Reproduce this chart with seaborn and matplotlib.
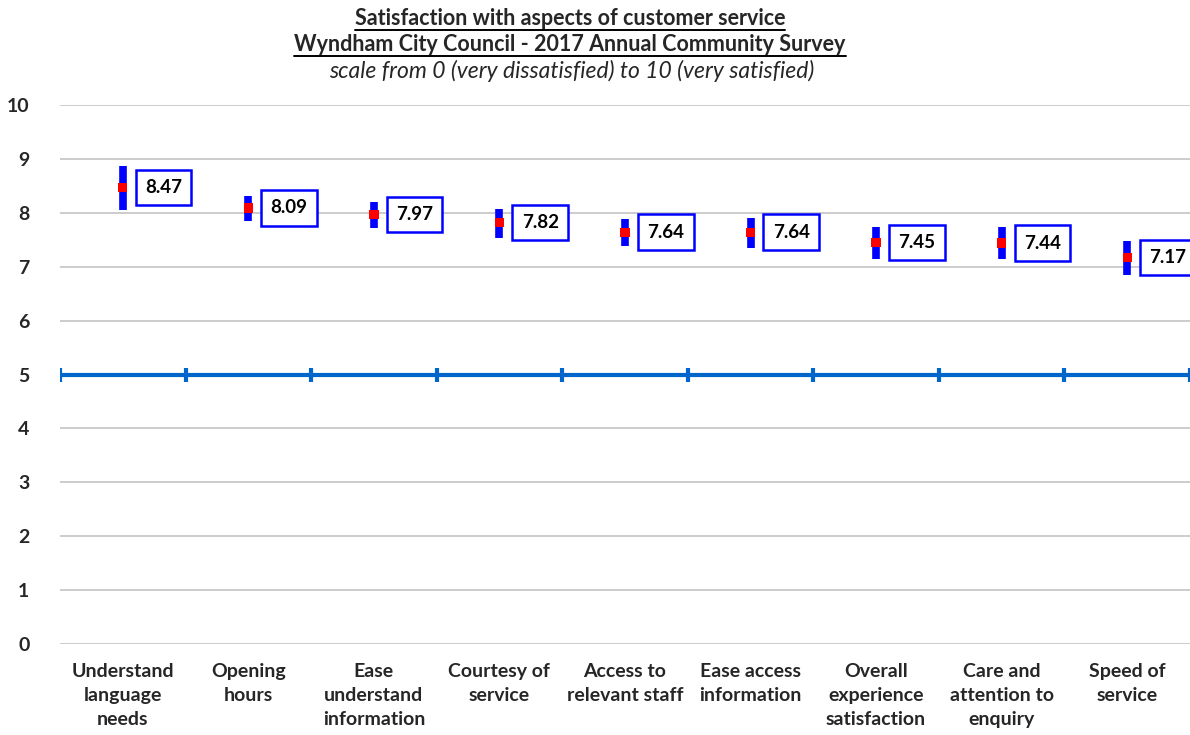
import matplotlib
matplotlib.use("Agg")
import matplotlib.pyplot as plt
from matplotlib.lines import Line2D
import seaborn as sns
import pandas as pd

categories = ["Understand\nlanguage\nneeds", "Opening\nhours", "Ease\nunderstand\ninformation",
              "Courtesy of\nservice", "Access to\nrelevant staff", "Ease access\ninformation",
              "Overall\nexperience\nsatisfaction", "Care and\nattention to\nenquiry", "Speed of\nservice"]
means = [8.47, 8.09, 7.97, 7.82, 7.64, 7.64, 7.45, 7.44, 7.17]
lower = [8.06, 7.84, 7.72, 7.54, 7.38, 7.34, 7.15, 7.15, 6.85]
upper = [8.86, 8.31, 8.21, 8.08, 7.89, 7.91, 7.73, 7.73, 7.47]
benchmark = 5
yticks = list(range(0, 11))

df = pd.DataFrame({"aspect": categories, "mean": means, "lo": lower, "hi": upper})

sns.set_style("white")
plt.rcParams["font.family"] = ["Lato", "DejaVu Sans"]

fig = plt.figure(figsize=(11.9, 7.35), dpi=100)
ax = fig.add_axes([0.0504, 0.1238, 0.9496, 0.7333])

xpos = list(range(len(categories)))

# benchmark line at 5 with boundary ticks
ax.axhline(benchmark, color="#0066CC", lw=3, zorder=2)
ax.vlines([x - 0.5 for x in xpos] + [len(xpos) - 0.5], benchmark - 0.13, benchmark + 0.13,
          color="#0066CC", lw=3, zorder=2)

# confidence interval bars
ax.vlines(xpos, df["lo"], df["hi"], color="#0000FF", lw=5.5, zorder=3)

sns.scatterplot(data=df, x="aspect", y="mean", ax=ax, marker="s", s=45,
                color="#FF0000", edgecolor="none", zorder=4)

for x, m in zip(xpos, means):
    ax.annotate(f"{m:.2f}", (x, m), xytext=(16, 0), textcoords="offset points",
                ha="left", va="center", fontsize=13.5, fontweight="bold", color="black",
                bbox=dict(boxstyle="square,pad=0.5", fc="white", ec="#0000FF", lw=1.8),
                zorder=5, annotation_clip=False)

ax.set_xlim(-0.5, len(categories) - 0.5)
ax.set_ylim(0, 10)
ax.set_yticks(yticks)
ax.set_yticklabels([str(t) for t in yticks], fontsize=14, fontweight="bold")
ax.set_xticks(xpos)
ax.set_xticklabels(categories, fontsize=14, fontweight="bold", linespacing=1.5)
ax.tick_params(axis="both", length=0)
ax.tick_params(axis="x", pad=14)
ax.tick_params(axis="y", pad=22)
ax.grid(axis="y", color="#C8C8C8", lw=1.3)
ax.set_axisbelow(True)
for s in ax.spines.values():
    s.set_visible(False)
ax.set_xlabel("")
ax.set_ylabel("")

t1 = fig.text(0.479, 0.975, "Satisfaction with aspects of customer service",
              ha="center", va="center", fontsize=15.5, fontweight="bold")
t2 = fig.text(0.479, 0.940, "Wyndham City Council - 2017 Annual Community Survey",
              ha="center", va="center", fontsize=15.5, fontweight="bold")
fig.text(0.48, 0.904, "scale from 0 (very dissatisfied) to 10 (very satisfied)",
         ha="center", va="center", fontsize=16.5, fontstyle="italic")

# underline the title lines
fig.canvas.draw()
r = fig.canvas.get_renderer()
for t in (t1, t2):
    bb = t.get_window_extent(renderer=r)
    y = bb.y0 - 1
    fig.add_artist(Line2D([bb.x0, bb.x1], [y, y], transform=None, color="black", lw=1.4))

fig.savefig("out.png", dpi=100)
